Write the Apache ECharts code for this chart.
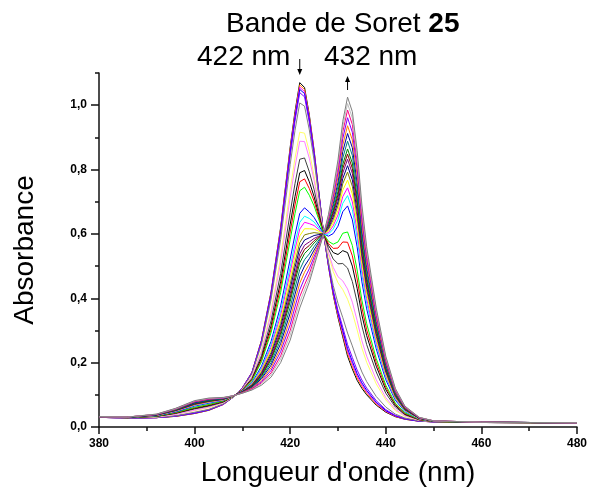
<!DOCTYPE html>
<html><head><meta charset="utf-8">
<script src="https://cdn.jsdelivr.net/npm/echarts@6/dist/echarts.min.js"></script>
<style>html,body{margin:0;padding:0;background:#fff}#c{width:590px;height:492px}</style>
</head><body><div id="c"></div>
<script>
// Wavelength grid (nm)
const wavelengths = [380,386,392,396,400,403,406,408,410,412,414,416,418,420,421,422,423,424,425,426,427,428,429,430,431,432,433,434,435,436,438,440,442,444,447,450,460,480];

// Absorbance spectra, from the initial (422 nm band) to the final (432 nm band)
const s01 = [.030,.028,.029,.033,.042,.052,.070,.092,.122,.170,.270,.420,.620,.870,.980,1.070,1.055,.970,.860,.730,.600,.500,.410,.340,.280,.220,.180,.145,.120,.100,.068,.046,.032,.024,.018,.016,.014,.013];
const s02 = [.030,.028,.029,.033,.042,.052,.070,.092,.122,.169,.269,.417,.616,.864,.973,1.063,1.049,.965,.856,.728,.600,.502,.413,.345,.287,.228,.188,.152,.126,.105,.071,.048,.033,.024,.018,.016,.014,.013];
const s03 = [.030,.028,.029,.034,.043,.053,.070,.092,.122,.169,.267,.415,.612,.858,.967,1.056,1.042,.960,.853,.726,.600,.503,.417,.350,.293,.236,.196,.159,.131,.109,.074,.049,.034,.025,.018,.016,.014,.013];
const s04 = [.030,.028,.029,.034,.043,.053,.071,.092,.121,.168,.266,.412,.607,.852,.960,1.049,1.036,.954,.849,.725,.600,.505,.420,.355,.300,.244,.204,.166,.137,.114,.077,.051,.035,.025,.018,.016,.014,.013];
const s05 = [.030,.028,.029,.034,.044,.054,.071,.092,.121,.168,.264,.408,.601,.843,.950,1.039,1.026,.947,.844,.722,.600,.507,.425,.362,.310,.256,.216,.177,.146,.121,.082,.054,.036,.026,.019,.016,.014,.013];
const s06 = [.030,.028,.030,.035,.046,.055,.072,.092,.120,.165,.257,.396,.582,.816,.921,1.007,.997,.923,.828,.714,.600,.514,.440,.384,.340,.292,.252,.209,.171,.141,.095,.062,.040,.028,.019,.016,.014,.013];
const s07 = [.030,.029,.031,.039,.051,.060,.075,.093,.118,.158,.239,.362,.528,.738,.835,.916,.913,.856,.781,.690,.600,.535,.483,.448,.427,.397,.356,.302,.245,.201,.134,.084,.051,.033,.021,.017,.014,.013];
const s08 = [.031,.029,.032,.039,.052,.062,.076,.093,.118,.156,.234,.351,.511,.714,.808,.888,.887,.835,.766,.683,.600,.542,.496,.467,.454,.429,.388,.331,.268,.220,.147,.091,.055,.035,.021,.017,.014,.013];
const s09 = [.031,.029,.033,.042,.056,.065,.077,.094,.116,.151,.222,.330,.477,.666,.756,.832,.836,.793,.738,.669,.600,.554,.522,.507,.508,.494,.452,.388,.314,.256,.171,.105,.062,.038,.022,.017,.014,.013];
const s10 = [.031,.029,.033,.043,.058,.067,.079,.094,.115,.148,.214,.314,.452,.630,.716,.790,.797,.762,.716,.658,.600,.564,.542,.536,.548,.542,.500,.431,.348,.284,.189,.116,.067,.040,.023,.017,.014,.013];
const s11 = [.031,.029,.034,.044,.060,.069,.080,.094,.115,.146,.208,.303,.435,.606,.690,.762,.771,.741,.702,.651,.600,.570,.555,.556,.575,.574,.532,.460,.371,.302,.201,.123,.071,.042,.023,.017,.014,.013];
const s12 = [.031,.029,.034,.045,.061,.070,.081,.094,.114,.144,.203,.293,.418,.582,.663,.734,.745,.720,.687,.644,.600,.577,.568,.575,.602,.606,.564,.488,.394,.321,.213,.130,.074,.044,.024,.017,.014,.013];
const s13 = [.031,.030,.035,.047,.065,.074,.083,.095,.112,.138,.189,.266,.376,.522,.597,.664,.681,.668,.651,.626,.600,.593,.601,.624,.669,.687,.644,.560,.451,.367,.243,.147,.083,.048,.025,.018,.015,.013];
const s14 = [.031,.030,.036,.049,.067,.076,.084,.095,.111,.136,.183,.256,.360,.498,.571,.636,.655,.648,.637,.618,.600,.599,.615,.644,.695,.719,.676,.588,.473,.385,.255,.154,.087,.049,.025,.018,.015,.013];
const s15 = [.031,.030,.036,.049,.068,.077,.084,.095,.111,.134,.179,.248,.347,.480,.551,.615,.636,.632,.626,.613,.600,.604,.625,.659,.716,.743,.700,.610,.491,.399,.264,.159,.089,.051,.026,.018,.015,.013];
const s16 = [.031,.030,.036,.050,.069,.078,.085,.095,.110,.133,.175,.240,.334,.462,.531,.594,.616,.616,.615,.608,.600,.609,.634,.673,.736,.767,.724,.631,.508,.413,.273,.164,.092,.052,.026,.018,.015,.013];
const s17 = [.031,.030,.037,.051,.070,.079,.086,.096,.110,.131,.171,.232,.322,.444,.511,.573,.597,.601,.604,.602,.600,.614,.644,.688,.756,.792,.748,.653,.525,.427,.282,.170,.094,.053,.027,.018,.015,.013];
const s18 = [.031,.030,.037,.051,.071,.080,.086,.096,.110,.130,.167,.225,.311,.429,.495,.556,.581,.588,.595,.598,.600,.618,.653,.700,.772,.812,.768,.671,.539,.438,.290,.174,.097,.054,.027,.018,.015,.013];
const s19 = [.031,.030,.037,.052,.072,.081,.087,.096,.109,.128,.164,.219,.301,.414,.478,.538,.565,.575,.586,.593,.600,.622,.661,.712,.789,.832,.788,.688,.553,.450,.298,.178,.099,.055,.027,.018,.015,.013];
const s20 = [.032,.030,.038,.053,.073,.082,.087,.096,.109,.127,.161,.213,.292,.402,.465,.524,.552,.564,.579,.590,.600,.625,.667,.722,.803,.848,.804,.703,.565,.459,.304,.182,.101,.056,.027,.018,.015,.013];
const s21 = [.032,.030,.038,.053,.074,.082,.088,.096,.108,.126,.158,.208,.284,.390,.452,.510,.539,.554,.572,.586,.600,.628,.674,.732,.816,.864,.820,.717,.576,.468,.310,.185,.102,.057,.028,.018,.015,.013];
const s22 = [.032,.030,.038,.054,.075,.084,.088,.096,.108,.124,.154,.200,.271,.372,.432,.489,.520,.538,.561,.581,.600,.633,.684,.747,.836,.888,.844,.738,.593,.482,.319,.190,.105,.058,.028,.018,.015,.013];
const s23 = [.032,.031,.038,.055,.076,.085,.089,.096,.107,.123,.150,.192,.259,.354,.412,.468,.500,.523,.550,.575,.600,.638,.694,.761,.856,.912,.868,.760,.610,.496,.328,.196,.108,.059,.028,.019,.015,.013];
const s24 = [.032,.031,.039,.055,.078,.086,.090,.096,.107,.121,.145,.184,.246,.336,.393,.447,.481,.507,.540,.570,.600,.642,.704,.776,.876,.936,.892,.781,.627,.509,.337,.201,.110,.060,.029,.019,.015,.013];
const s25 = [.032,.031,.039,.056,.079,.087,.090,.097,.106,.119,.141,.176,.234,.318,.373,.426,.462,.492,.529,.564,.600,.647,.714,.791,.896,.961,.916,.803,.644,.523,.346,.206,.113,.062,.029,.019,.015,.013];
const s26 = [.032,.031,.039,.057,.080,.088,.091,.097,.106,.118,.137,.168,.221,.300,.353,.405,.442,.476,.518,.559,.600,.652,.724,.806,.917,.985,.940,.824,.662,.537,.355,.211,.116,.063,.029,.019,.015,.013];
const s27 = [.032,.031,.040,.057,.081,.089,.091,.097,.105,.116,.134,.162,.211,.285,.337,.388,.426,.463,.509,.554,.600,.656,.732,.818,.933,1.005,.960,.842,.676,.549,.363,.216,.118,.064,.030,.019,.015,.013];
const s28 = [.032,.031,.040,.058,.082,.090,.092,.097,.105,.115,.130,.155,.200,.270,.320,.370,.410,.450,.500,.550,.600,.660,.740,.830,.950,1.025,.980,.860,.690,.560,.370,.220,.120,.065,.030,.019,.015,.013];

const seriesValues = [s01,s02,s03,s04,s05,s06,s07,s08,s09,s10,s11,s12,s13,s14,s15,s16,s17,s18,s19,s20,s21,s22,s23,s24,s25,s26,s27,s28];
const seriesColors = ['#000000','#FF8000','#FF00FF','#0000FF','#8000FF','#808080','#FFFF66','#FF80FF','#404040','#000000','#FF0000','#00FF00','#0000FF','#00FFFF','#FF00FF','#FFFF00','#808000','#000080','#800080','#800000','#008000','#008080','#0000A0','#FF8000','#8000FF','#FF0080','#C0C0C0','#808080'];

const yLabelValues = [0,0.2,0.4,0.6,0.8,1.0];
const titleText = 'Bande de Soret ';
const titleNumber = '25';
const peakStart = 422;
const peakEnd = 432;

const FONT = '"Liberation Sans", Arial, Helvetica, sans-serif';
const chart = echarts.init(document.getElementById('c'), null, {renderer:'canvas'});

const series = seriesValues.map((vals, i) => ({
  type: 'line', xAxisIndex: 0, yAxisIndex: 0,
  symbol: 'none', showSymbol: false, smooth: false, animation: false,
  lineStyle: {width: 1, color: seriesColors[i]},
  itemStyle: {color: seriesColors[i]},
  data: wavelengths.map((w, j) => [w, vals[j]])
}));

const axisCol = '#111';
chart.setOption({
  animation: false,
  backgroundColor: '#fff',
  grid: {left: 99, right: 13, top: 73, bottom: 65, containLabel: false},
  xAxis: [{
    type: 'value', min: 380, max: 480, interval: 20, position: 'bottom',
    axisLine: {show: true, lineStyle: {color: axisCol, width: 1.5}},
    axisTick: {show: true, inside: false, length: 7, lineStyle: {color: axisCol, width: 1.5}},
    minorTick: {show: true, splitNumber: 2, length: 4, lineStyle: {color: axisCol, width: 1.5}},
    splitLine: {show: false},
    axisLabel: {fontFamily: FONT, fontWeight: 'bold', fontSize: 12, color: '#000', margin: 11},
    name: "Longueur d'onde (nm)", nameLocation: 'middle', nameGap: 32,
    nameTextStyle: {fontFamily: FONT, fontSize: 28, color: '#000'}
  }],
  yAxis: [{
    type: 'value', min: 0, max: 1.1, interval: 0.1, position: 'left',
    axisLine: {show: true, lineStyle: {color: axisCol, width: 1.5}},
    axisTick: {show: true, inside: false, length: 4, lineStyle: {color: axisCol, width: 1.5}},
    axisLabel: {show: false},
    splitLine: {show: false},
    name: 'Absorbance', nameLocation: 'middle', nameGap: 60,
    nameTextStyle: {fontFamily: FONT, fontSize: 28, color: '#000'}
  }, {
    type: 'value', min: 0, max: 1.1, position: 'left',
    axisLine: {show: false},
    axisTick: {show: true, inside: false, length: 8, customValues: yLabelValues, lineStyle: {color: axisCol, width: 1.5}},
    axisLabel: {show: true, customValues: yLabelValues, fontFamily: FONT, fontWeight: 'bold', fontSize: 12, color: '#000', margin: 12,
      formatter: v => v.toFixed(1).replace('.', ',')},
    splitLine: {show: false}
  }],
  series: series
});

const xa = chart.convertToPixel({xAxisIndex: 0}, peakStart);
const xb = chart.convertToPixel({xAxisIndex: 0}, peakEnd);
chart.setOption({
  graphic: [
    {type: 'text', left: 226, top: 10, style: {text: '{a|' + titleText + '}{b|' + titleNumber + '}',
      rich: {a: {fontFamily: FONT, fontSize: 28, fill: '#000'}, b: {fontFamily: FONT, fontSize: 28, fontWeight: 'bold', fill: '#000'}}}},
    {type: 'text', left: 197, top: 43, style: {text: peakStart + ' nm', fontFamily: FONT, fontSize: 28, fill: '#000'}},
    {type: 'text', left: 324, top: 43, style: {text: peakEnd + ' nm', fontFamily: FONT, fontSize: 28, fill: '#000'}},
    {type: 'line', shape: {x1: xa, y1: 59, x2: xa, y2: 70}, style: {stroke: '#000', lineWidth: 1}},
    {type: 'polygon', shape: {points: [[xa - 2.5, 69], [xa + 2.5, 69], [xa, 75]]}, style: {fill: '#000'}},
    {type: 'line', shape: {x1: xb, y1: 81, x2: xb, y2: 90}, style: {stroke: '#000', lineWidth: 1}},
    {type: 'polygon', shape: {points: [[xb - 2.5, 82], [xb + 2.5, 82], [xb, 76]]}, style: {fill: '#000'}}
  ]
});
</script>
</body></html>
